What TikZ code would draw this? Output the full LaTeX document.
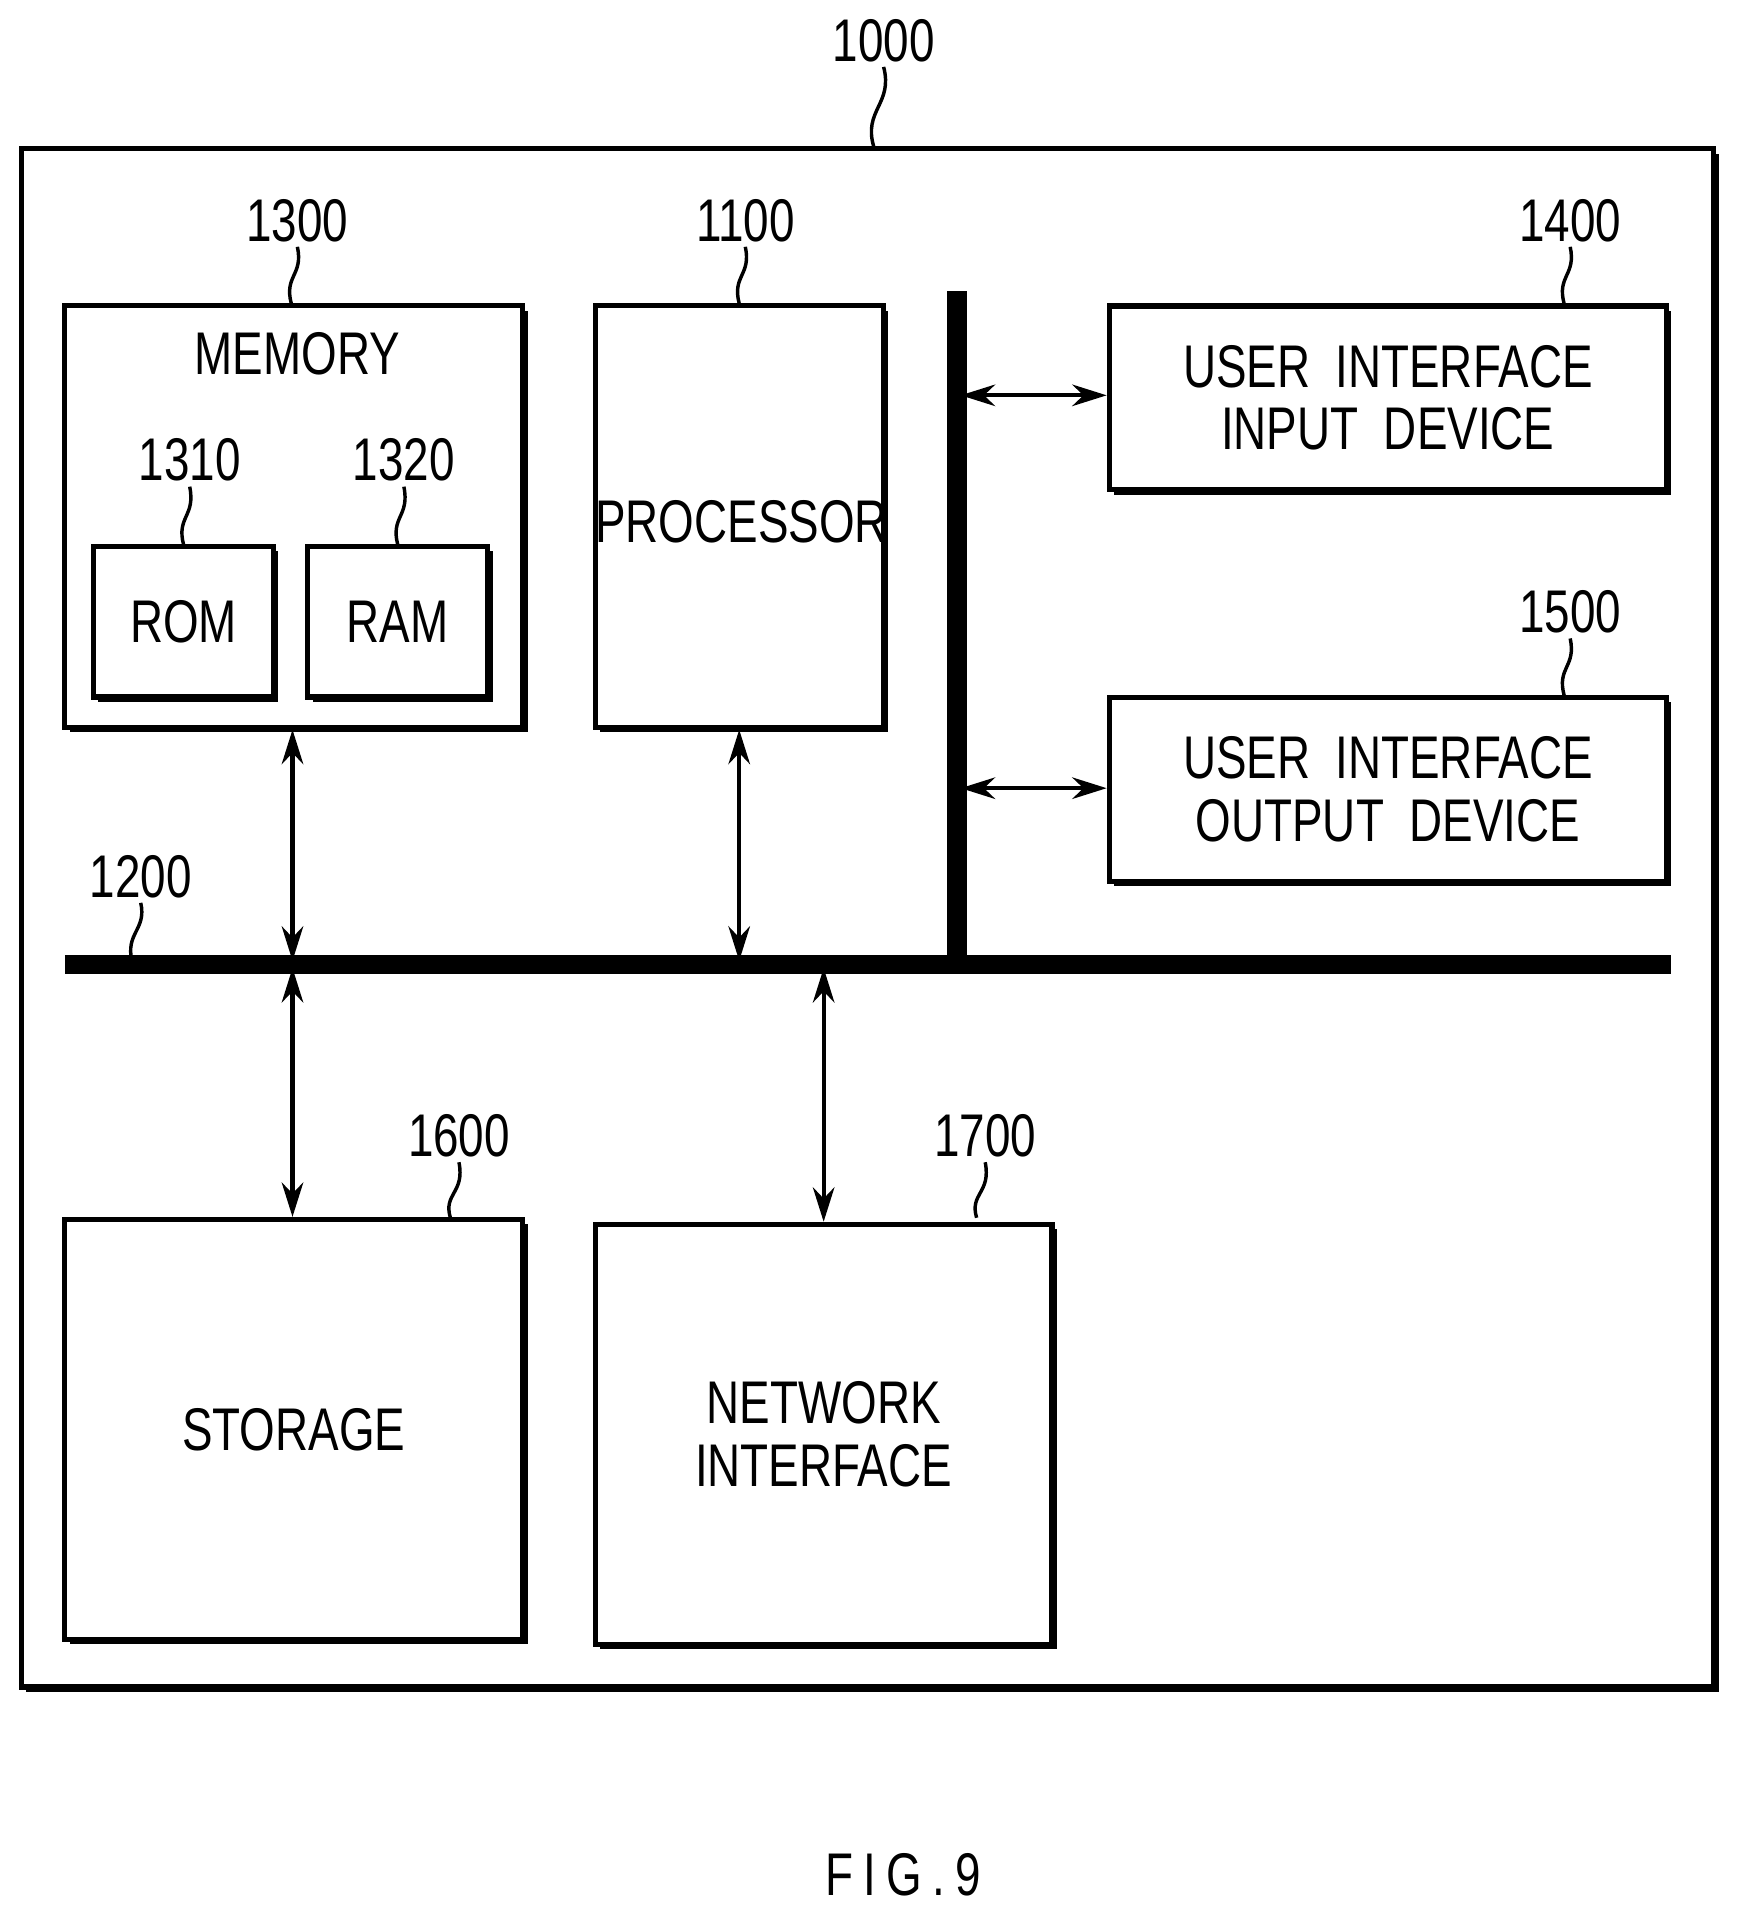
\documentclass[tikz,border=0pt]{standalone}
\usepackage{fontspec}
\setmainfont{Liberation Sans}[FakeStretch=0.76]
\usetikzlibrary{arrows.meta,shadows}
\begin{document}
\begin{tikzpicture}[x=0.01cm,y=-0.01cm,
  box/.style={draw,line width=1.2pt,fill=white,inner sep=0pt,
    drop shadow={shadow xshift=0.04cm,shadow yshift=-0.04cm,fill=black,opacity=1}},
  lbl/.style={font=\fontsize{14}{17}\selectfont,inner sep=1pt},
  txt/.style={font=\fontsize{14}{14.5}\selectfont,align=center},
  lead/.style={line width=0.8pt},
  arr/.style={line width=1pt,{Stealth[length=8pt,width=5pt]}-{Stealth[length=8pt,width=5pt]}},
  bus/.style={line width=4.5pt}]
\useasboundingbox (0,0) rectangle (1420,1568);
% outer
\node[box,minimum width=13.82cm,minimum height=12.56cm] (outer) at (709,750) {};
\node[lbl] (l1000) at (722,33) {1000};
\draw[lead] (l1000.south) .. controls (730,85) and (705,90) .. (714,120);
% memory
\node[box,minimum width=3.74cm,minimum height=3.44cm] (mem) at (240,422) {};
\node[txt] (memt) at (243,289) {MEMORY};
\node[lbl] (l1300) at (243,180) {1300};
\draw[lead] (l1300.south) .. controls (248,225) and (232,225) .. (238,248);
\node[box,minimum width=1.47cm,minimum height=1.23cm,txt] (rom) at (150,508) {ROM};
\node[lbl] (l1310) at (155,376) {1310};
\draw[lead] (l1310.south) .. controls (160,422) and (144,422) .. (150,445);
\node[box,minimum width=1.47cm,minimum height=1.23cm,txt] (ram) at (325,508) {RAM};
\node[lbl] (l1320) at (330,376) {1320};
\draw[lead] (l1320.south) .. controls (335,422) and (319,422) .. (325,445);
% processor
\node[box,minimum width=2.35cm,minimum height=3.44cm] (proc) at (604,422) {};
\node[txt] at (606,426) {PROCESSOR};
\node[lbl] (l1100) at (609,180) {1100};
\draw[lead] (l1100.south) .. controls (614,225) and (598,225) .. (604,248);
% UI
\node[box,minimum width=4.55cm,minimum height=1.5cm,txt] (uii) at (1134,325) {USER\ \ INTERFACE\\INPUT\ \ DEVICE};
\node[lbl] (l1400) at (1283,180) {1400};
\draw[lead] (l1400.south) .. controls (1288,225) and (1272,225) .. (1278,248);
\node[box,minimum width=4.55cm,minimum height=1.5cm,txt] (uio) at (1134,645) {USER\ \ INTERFACE\\OUTPUT\ \ DEVICE};
\node[lbl] (l1500) at (1283,500) {1500};
\draw[lead] (l1500.south) .. controls (1288,545) and (1272,545) .. (1278,568);
% buses
\coordinate (vb1) at (782,238); \coordinate (vb2) at (782,788);
\coordinate (hb1) at (53,788); \coordinate (hb2) at (1365,788);
\draw[bus] (vb1) -- (vb2);
\draw[bus] (hb1) -- (hb2);
\node[lbl] (l1200) at (115,716) {1200};
\draw[lead] (l1200.south) .. controls (120,760) and (102,762) .. (108,786);
% arrows
\coordinate (a1) at (785,323); \coordinate (a2) at (785,644);
\draw[arr] (a1) -- (uii.west|-a1);
\draw[arr] (a2) -- (uio.west|-a2);
\coordinate (m1) at (239,785); \coordinate (p1) at (604,785);
\draw[arr] (mem.south-|m1) -- (m1);
\draw[arr] (proc.south-|p1) -- (p1);
% storage & network
\node[box,minimum width=3.74cm,minimum height=3.43cm,txt] (sto) at (240,1168) {STORAGE};
\node[lbl] (l1600) at (375,928) {1600};
\draw[lead] (l1600.south) .. controls (380,975) and (362,975) .. (368,995);
\node[box,minimum width=3.73cm,minimum height=3.43cm,txt] (net) at (673,1172) {NETWORK\\INTERFACE};
\node[lbl] (l1700) at (805,928) {1700};
\draw[lead] (l1700.south) .. controls (810,975) and (792,975) .. (798,995);
\coordinate (s1) at (239,791); \coordinate (n1) at (673,791);
\draw[arr] (s1) -- (sto.north-|s1);
\draw[arr] (n1) -- (net.north-|n1);
\node[lbl] (fig) at (738,1532) {F\,I\,G\,.\,9};
\end{tikzpicture}
\end{document}
